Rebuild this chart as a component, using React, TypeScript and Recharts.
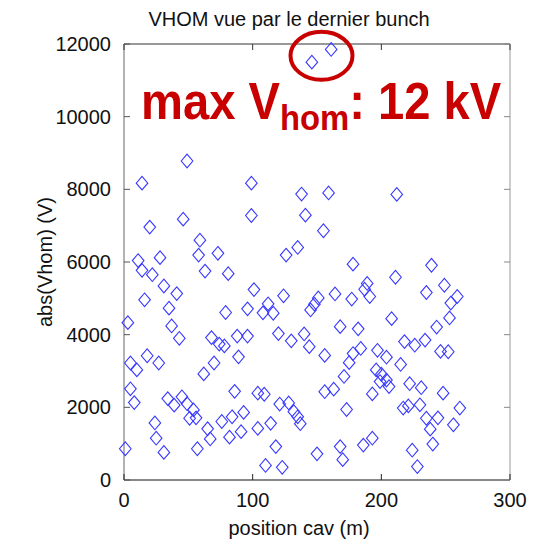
import { ReferenceDot, ReferenceLine, Scatter, ScatterChart, XAxis, YAxis } from 'recharts';

// cavity position along the line (m) and |Vhom| seen by the last bunch (V)
const CAV_POS = [
    146, 161, 49, 14, 99, 138, 159, 212, 46, 20, 99, 141, 155, 59, 135, 126, 178, 239, 58, 73,
    28, 11, 14, 22, 63, 81, 211, 31, 101, 189, 187, 249, 235, 41, 124, 191, 259, 254, 16, 151,
    148, 164, 177, 35, 112, 96, 79, 108, 116, 145, 3, 37, 43, 68, 74, 78, 88, 96, 89, 120,
    130, 140, 144, 168, 182, 208, 253, 243, 218, 226, 234, 246, 252, 156, 184, 178, 175, 171, 197, 204,
    196, 200, 204, 206, 199, 215, 222, 231, 248, 261, 256, 193, 163, 156, 173, 217, 221, 230, 235, 244,
    238, 240, 224, 228, 193, 186, 168, 170, 150, 121, 128, 132, 135, 137, 114, 104, 118, 110, 123, 104,
    109, 93, 84, 76, 82, 91, 65, 67, 57, 86, 70, 62, 18, 27, 5, 10, 5, 8, 34, 45,
    39, 49, 54, 51, 56, 24, 25, 31, 1,
];
const V_HOM = [
    11500, 11850, 8780, 8170, 8170, 7870, 7900, 7860, 7180, 6960, 7280, 7290, 6860, 6600, 6400, 6190, 5940, 5910, 6190, 6240,
    6120, 6040, 5770, 5650, 5750, 5680, 5580, 5340, 5240, 5410, 5250, 5360, 5160, 5130, 5070, 5050, 5050, 4870, 4960, 5010,
    4840, 5120, 4980, 4730, 4850, 4710, 4610, 4600, 4590, 4680, 4330, 4240, 3900, 3920, 3740, 3690, 3960, 3960, 3390, 4030,
    3830, 4020, 3670, 4220, 4160, 4440, 4460, 4210, 3810, 3710, 3850, 3540, 3530, 3430, 3620, 3480, 3230, 2850, 3570, 3380,
    3030, 2910, 2750, 2570, 2710, 3180, 2650, 2540, 2390, 1980, 1520, 2370, 2500, 2430, 1940, 1980, 2040, 2070, 1700, 1710,
    1400, 990, 820, 370, 1150, 960, 920, 560, 720, 2090, 2120, 1880, 1740, 1550, 1560, 1420, 920, 400, 350, 2390,
    2360, 1860, 1740, 1610, 1180, 1330, 1410, 1130, 860, 2440, 3220, 2920, 3420, 3220, 3220, 3030, 2510, 2130, 2240, 2290,
    2060, 2100, 1930, 1700, 1710, 1570, 1150, 760, 860,
];

const X_TICKS = [0, 100, 200, 300];
const Y_TICKS = [0, 2000, 4000, 6000, 8000, 10000, 12000];

const TITLE = 'VHOM vue par le dernier bunch';
const X_LABEL = 'position cav (m)';
const Y_LABEL = 'abs(Vhom) (V)';

const W = 539;
const H = 551;
const MARGIN = { top: 44, right: 29, bottom: 41, left: 64 };
const Y_AXIS_W = 60;
const X_AXIS_H = 30;
const PLOT_W = W - MARGIN.left - MARGIN.right - Y_AXIS_W;
const PLOT_H = H - MARGIN.top - MARGIN.bottom - X_AXIS_H;
const TICK_LEN = 6;

const FONT = '"Liberation Sans", Arial, Helvetica, sans-serif';
const BLUE = '#3838ff';
const RED = '#c80000';

const points = CAV_POS.map((pos, i) => ({ pos, v: V_HOM[i] }));

// ring around the two highest cavities
const topTwo = [...points].sort((a, b) => b.v - a.v).slice(0, 2);
const ringCenter = {
    pos: (topTwo[0].pos + topTwo[1].pos) / 2,
    v: (topTwo[0].v + topTwo[1].v) / 2,
};

function Diamond({ cx, cy }: { cx?: number; cy?: number }) {
    if (cx == null || cy == null) return null;
    const hw = 5.8;
    const hh = 6.8;
    return (
        <path
            d={`M${cx},${cy - hh} L${cx + hw},${cy} L${cx},${cy + hh} L${cx - hw},${cy} Z`}
            fill="none"
            stroke={BLUE}
            strokeWidth={1.1}
        />
    );
}

// matlab style: ticks pointing into the box on both sides
function XTick({ x, y, payload }: any) {
    return (
        <g>
            <line x1={x} x2={x} y1={y} y2={y - TICK_LEN} stroke="#222" />
            <line x1={x} x2={x} y1={y - PLOT_H} y2={y - PLOT_H + TICK_LEN} stroke="#333" />
            <text x={x} y={y + 27} textAnchor="middle" fontFamily={FONT} fontSize={20} fill="#111">
                {payload.value}
            </text>
        </g>
    );
}

function YTick({ x, y, payload }: any) {
    return (
        <g>
            <line x1={x} x2={x + TICK_LEN} y1={y} y2={y} stroke="#555" />
            <line x1={x + PLOT_W - TICK_LEN} x2={x + PLOT_W} y1={y} y2={y} stroke="#888" />
            <text x={x - 13} y={y + 7} textAnchor="end" fontFamily={FONT} fontSize={20} fill="#111">
                {payload.value}
            </text>
        </g>
    );
}

function Ring({ cx, cy }: { cx?: number; cy?: number }) {
    if (cx == null || cy == null) return null;
    return <ellipse cx={cx} cy={cy} rx={31} ry={24} fill="none" stroke={RED} strokeWidth={4} />;
}

export default function App() {
    return (
        <div style={{ position: 'fixed', left: 0, top: 0, width: W, height: H, background: '#fff' }}>
            <ScatterChart width={W} height={H} margin={MARGIN}>
                <XAxis
                    type="number"
                    dataKey="pos"
                    domain={[0, 300]}
                    ticks={X_TICKS}
                    height={X_AXIS_H}
                    tickSize={0}
                    tickMargin={0}
                    tick={XTick}
                    axisLine={{ stroke: '#111' }}
                />
                <YAxis
                    type="number"
                    dataKey="v"
                    domain={[0, 12000]}
                    ticks={Y_TICKS}
                    width={Y_AXIS_W}
                    tickSize={0}
                    tickMargin={0}
                    tick={YTick}
                    axisLine={{ stroke: '#666' }}
                />
                <ReferenceLine y={12000} stroke="#333" />
                <ReferenceLine x={300} stroke="#999" />
                <Scatter data={points} shape={Diamond} isAnimationActive={false} />
                <ReferenceDot x={ringCenter.pos} y={ringCenter.v} shape={Ring} />
            </ScatterChart>
            <svg
                width={W}
                height={H}
                style={{ position: 'absolute', left: 0, top: 0, pointerEvents: 'none' }}
                fontFamily={FONT}
            >
                <text x={289} y={26} textAnchor="middle" fontSize={20} fill="#111">
                    {TITLE}
                </text>
                <text x={299} y={535} textAnchor="middle" fontSize={20} fill="#111">
                    {X_LABEL}
                </text>
                <text
                    x={0}
                    y={0}
                    textAnchor="middle"
                    fontSize={20}
                    fill="#111"
                    transform="translate(52 262) rotate(-90)"
                >
                    {Y_LABEL}
                </text>
                <g transform="translate(141 119) scale(1.025 1.12)">
                    <text x={0} y={0} fontSize={46} fontWeight={700} fill={RED}>
                        max V
                        <tspan fontSize={32} dy={10}>
                            hom
                        </tspan>
                        <tspan fontSize={46} dy={-10}>
                            : 12 kV
                        </tspan>
                    </text>
                </g>
            </svg>
        </div>
    );
}
